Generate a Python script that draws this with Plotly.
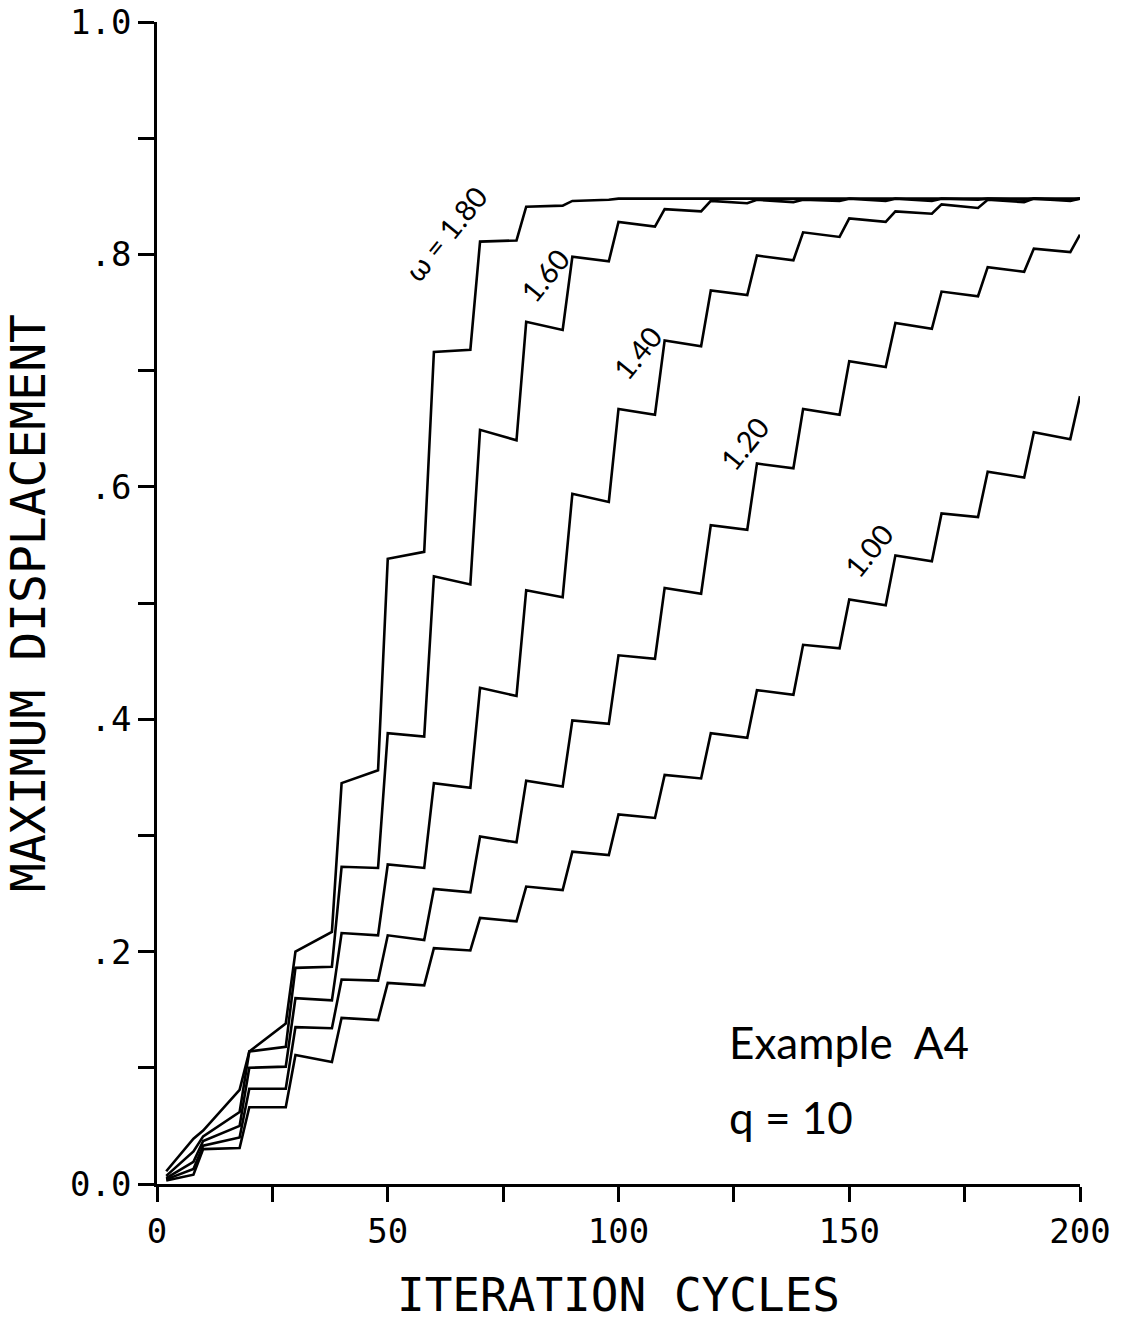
import plotly.graph_objects as go

# Iteration numbers at which the displacement history is sampled
# (end of each plateau, then the top of the following jump).
iterations = [2, 7.9, 10, 17.9, 20, 27.9, 30, 37.9, 40, 47.9, 50, 57.9, 60, 67.9, 70,
              77.9, 80, 87.9, 90, 97.9, 100, 107.9, 110, 117.9, 120, 127.9, 130,
              137.9, 140, 147.9, 150, 157.9, 160, 167.9, 170, 177.9, 180, 187.9,
              190, 197.9, 200]

disp_w100 = [0.003, 0.008, 0.030, 0.031, 0.066, 0.066, 0.111, 0.105, 0.143, 0.141,
             0.173, 0.171, 0.203, 0.201, 0.229, 0.226, 0.256, 0.253, 0.286, 0.283,
             0.318, 0.315, 0.352, 0.349, 0.388, 0.384, 0.425, 0.421, 0.464, 0.461,
             0.503, 0.498, 0.541, 0.536, 0.577, 0.574, 0.613, 0.608, 0.647, 0.641,
             0.678]
disp_w120 = [0.004, 0.013, 0.033, 0.040, 0.082, 0.082, 0.135, 0.134, 0.176, 0.175,
             0.214, 0.210, 0.254, 0.251, 0.299, 0.294, 0.347, 0.342, 0.399, 0.396,
             0.455, 0.452, 0.513, 0.508, 0.567, 0.563, 0.620, 0.616, 0.667, 0.662,
             0.708, 0.703, 0.741, 0.736, 0.768, 0.764, 0.789, 0.785, 0.805, 0.802,
             0.817]
disp_w140 = [0.005, 0.019, 0.037, 0.050, 0.100, 0.101, 0.160, 0.158, 0.216, 0.214,
             0.275, 0.272, 0.345, 0.341, 0.427, 0.420, 0.511, 0.505, 0.594, 0.587,
             0.667, 0.662, 0.726, 0.721, 0.769, 0.765, 0.799, 0.795, 0.819, 0.815,
             0.831, 0.828, 0.837, 0.835, 0.843, 0.840, 0.847, 0.845, 0.848, 0.846,
             0.848]
disp_w160 = [0.007, 0.028, 0.041, 0.062, 0.114, 0.118, 0.186, 0.187, 0.273, 0.272,
             0.388, 0.385, 0.523, 0.516, 0.649, 0.640, 0.742, 0.735, 0.798, 0.794,
             0.828, 0.824, 0.839, 0.837, 0.846, 0.844, 0.847, 0.845, 0.847, 0.846,
             0.848, 0.846, 0.848, 0.846, 0.848, 0.847, 0.848, 0.847, 0.848, 0.847,
             0.848]
disp_w180 = [0.011, 0.039, 0.046, 0.081, 0.114, 0.138, 0.200, 0.217, 0.345, 0.356,
             0.538, 0.544, 0.716, 0.718, 0.811, 0.812, 0.841, 0.842, 0.846, 0.847,
             0.848, 0.848, 0.848, 0.848, 0.848, 0.848, 0.848, 0.848, 0.848, 0.848,
             0.848, 0.848, 0.848, 0.848, 0.848, 0.848, 0.848, 0.848, 0.848, 0.848,
             0.848]

series = [disp_w100, disp_w120, disp_w140, disp_w160, disp_w180]

# Curve labels and where they sit (iteration, displacement)
curve_labels = ["ω = 1.80", "1.60", "1.40", "1.20", "1.00"]
label_x = [62.5, 83.9, 104.0, 127.2, 154.1]
label_y = [0.818, 0.782, 0.716, 0.637, 0.545]

y_tick_vals = [0.0, 0.2, 0.4, 0.6, 0.8, 1.0]
y_tick_text = ["0.0", ".2", ".4", ".6", ".8", "1.0"]
x_tick_vals = [0, 50, 100, 150, 200]
x_tick_text = ["0", "50", "100", "150", "200"]

PLOT_FONT = "DejaVu Sans Mono"
LABEL_FONT = "Lato"

fig = go.Figure()
for ys in series:
    fig.add_trace(go.Scatter(
        x=iterations, y=ys, mode="lines",
        line=dict(color="black", width=2.6),
        showlegend=False, hoverinfo="skip",
    ))

for txt, lx, ly in zip(curve_labels, label_x, label_y):
    fig.add_annotation(
        x=lx, y=ly, xref="x", yref="y", text=txt, showarrow=False,
        textangle=-51, font=dict(family=LABEL_FONT, size=29, color="black"),
    )

fig.add_annotation(x=123.5, y=0.122, xref="x", yref="y", xanchor="left",
                   text="Example  A4", showarrow=False,
                   font=dict(family=LABEL_FONT, size=44, color="black"))
fig.add_annotation(x=123.5, y=0.058, xref="x", yref="y", xanchor="left",
                   text="q = 10", showarrow=False,
                   font=dict(family=LABEL_FONT, size=44, color="black"))

fig.update_layout(
    width=1121, height=1324,
    margin=dict(l=157, r=41, t=22, b=140, autoexpand=False),
    plot_bgcolor="white", paper_bgcolor="white",
    font=dict(family=PLOT_FONT, color="black"),
)

fig.update_xaxes(
    range=[0, 200], showgrid=False, zeroline=False, automargin=False,
    showline=True, linecolor="black", linewidth=2.5,
    ticks="outside", ticklen=15, tickwidth=2.5, tickcolor="black",
    tickvals=x_tick_vals, ticktext=x_tick_text,
    tickfont=dict(family=PLOT_FONT, size=34, color="black"),
    minor=dict(dtick=25, tick0=0, ticks="outside", ticklen=15, tickwidth=2.5,
               tickcolor="black", showgrid=False),
    title=dict(text="ITERATION CYCLES", standoff=30,
               font=dict(family=PLOT_FONT, size=46, color="black")),
)
fig.update_yaxes(
    range=[0, 1.0], showgrid=False, zeroline=False, automargin=False,
    showline=True, linecolor="black", linewidth=2.5,
    ticks="outside", ticklen=16, tickwidth=2.5, tickcolor="black",
    tickvals=y_tick_vals, ticktext=y_tick_text,
    tickfont=dict(family=PLOT_FONT, size=34, color="black"),
    minor=dict(dtick=0.1, tick0=0, ticks="outside", ticklen=16, tickwidth=2.5,
               tickcolor="black", showgrid=False),
    title=dict(text="MAXIMUM DISPLACEMENT", standoff=20,
               font=dict(family=PLOT_FONT, size=48, color="black")),
)

fig.write_html("out.html")
